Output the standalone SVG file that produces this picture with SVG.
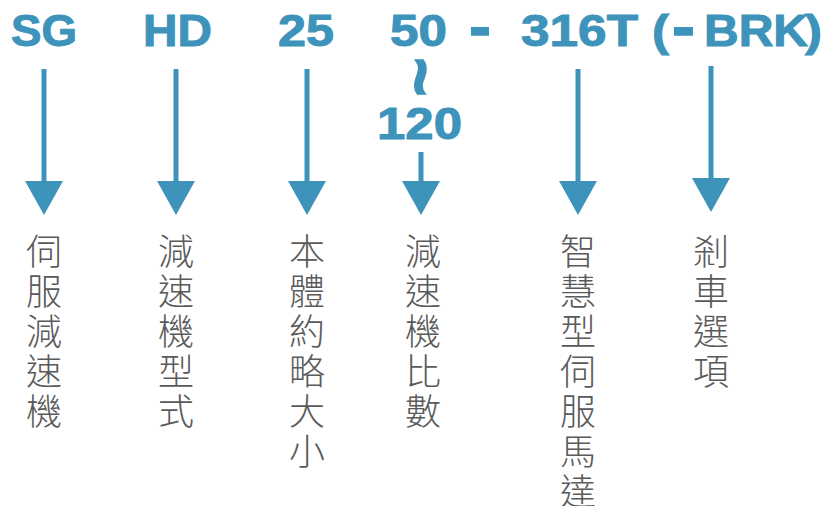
<svg xmlns="http://www.w3.org/2000/svg" width="823" height="506" viewBox="0 0 823 506">
<style>
.code{font-family:"Liberation Sans",Arial,sans-serif;font-weight:bold;font-size:44px;fill:#3e93bb;stroke:#3e93bb;stroke-width:1;}
.dash{stroke-width:3.5;stroke-linejoin:miter;}
.tilde{font-size:66px;stroke-width:2;text-anchor:middle;}
.lbl{font-family:"Noto Sans CJK TC","Noto Sans CJK SC",sans-serif;font-weight:300;font-size:36px;fill:#5a5a5a;text-anchor:middle;}
.shaft{stroke:#3e93bb;stroke-width:5;fill:none;}
.head{fill:#3e93bb;}
</style>
<rect width="823" height="506" fill="#ffffff"/>
<g id="code">
<text class="code" x="11" y="46" textLength="66" lengthAdjust="spacingAndGlyphs">SG</text>
<text class="code" x="143" y="46" textLength="69" lengthAdjust="spacingAndGlyphs">HD</text>
<text class="code" x="278" y="46" textLength="56" lengthAdjust="spacingAndGlyphs">25</text>
<text class="code" x="390" y="46" textLength="57" lengthAdjust="spacingAndGlyphs">50</text>
<text class="code dash" x="471" y="43" textLength="18" lengthAdjust="spacingAndGlyphs">-</text>
<text class="code" x="521" y="46" textLength="117" lengthAdjust="spacingAndGlyphs">316T</text>
<text class="code" x="652" y="46" textLength="17" lengthAdjust="spacingAndGlyphs">(</text>
<text class="code dash" x="674" y="43" textLength="19" lengthAdjust="spacingAndGlyphs">-</text>
<text class="code" x="704" y="46" textLength="104" lengthAdjust="spacingAndGlyphs">BRK</text>
<text class="code" x="805" y="46" textLength="17" lengthAdjust="spacingAndGlyphs">)</text>
<text class="code tilde" x="421" y="100" transform="rotate(90 421 77)">~</text>
<text class="code" x="377" y="139" textLength="85" lengthAdjust="spacingAndGlyphs">120</text>
</g>
<g id="connectors">
<line class="shaft" x1="44" y1="69" x2="44" y2="183"/>
<polygon class="head" points="25,181 63,181 44,215"/>
<line class="shaft" x1="176" y1="69" x2="176" y2="183"/>
<polygon class="head" points="157,181 195,181 176,215"/>
<line class="shaft" x1="307" y1="69" x2="307" y2="183"/>
<polygon class="head" points="288,181 326,181 307,215"/>
<line class="shaft" x1="421" y1="152" x2="421" y2="183"/>
<polygon class="head" points="402,181 440,181 421,215"/>
<line class="shaft" x1="578" y1="69" x2="578" y2="183"/>
<polygon class="head" points="559,181 597,181 578,215"/>
<line class="shaft" x1="711" y1="66" x2="711" y2="180"/>
<polygon class="head" points="692,178 730,178 711,212"/>
</g>
<g id="node-sg">
<text class="lbl" y="265"><tspan x="44">伺</tspan><tspan x="44" dy="40">服</tspan><tspan x="44" dy="40">減</tspan><tspan x="44" dy="40">速</tspan><tspan x="44" dy="40">機</tspan></text>
</g>
<g id="node-hd">
<text class="lbl" y="265"><tspan x="176">減</tspan><tspan x="176" dy="40">速</tspan><tspan x="176" dy="40">機</tspan><tspan x="176" dy="40">型</tspan><tspan x="176" dy="40">式</tspan></text>
</g>
<g id="node-25">
<text class="lbl" y="265"><tspan x="307">本</tspan><tspan x="307" dy="40">體</tspan><tspan x="307" dy="40">約</tspan><tspan x="307" dy="40">略</tspan><tspan x="307" dy="40">大</tspan><tspan x="307" dy="40">小</tspan></text>
</g>
<g id="node-ratio">
<text class="lbl" y="265"><tspan x="423">減</tspan><tspan x="423" dy="40">速</tspan><tspan x="423" dy="40">機</tspan><tspan x="423" dy="40">比</tspan><tspan x="423" dy="40">數</tspan></text>
</g>
<g id="node-motor">
<text class="lbl" y="265"><tspan x="578">智</tspan><tspan x="578" dy="40">慧</tspan><tspan x="578" dy="40">型</tspan><tspan x="578" dy="40">伺</tspan><tspan x="578" dy="40">服</tspan><tspan x="578" dy="40">馬</tspan><tspan x="578" dy="40">達</tspan></text>
</g>
<g id="node-brk">
<text class="lbl" y="265"><tspan x="711">剎</tspan><tspan x="711" dy="40">車</tspan><tspan x="711" dy="40">選</tspan><tspan x="711" dy="40">項</tspan></text>
</g>
</svg>
